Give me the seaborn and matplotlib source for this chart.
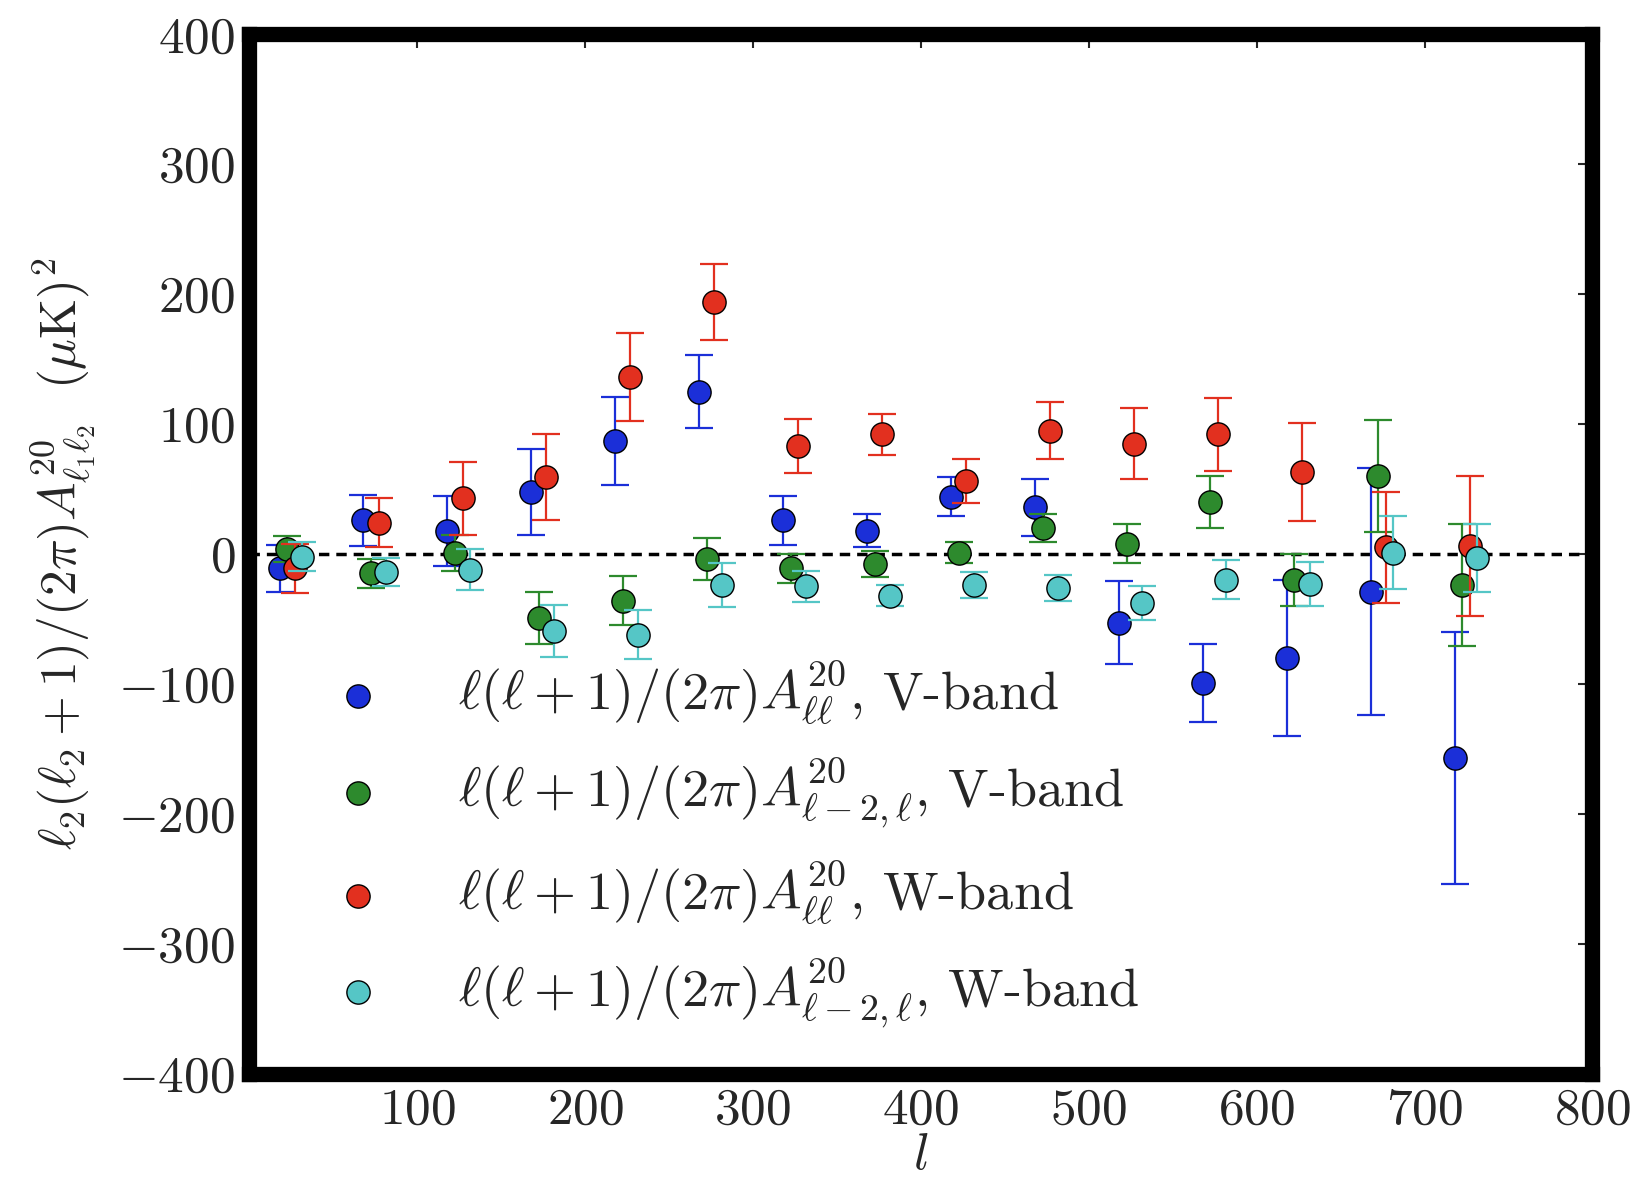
import numpy as np
import pandas as pd
import matplotlib
matplotlib.use('Agg')
import matplotlib.pyplot as plt
import seaborn as sns

# bin centres in l and the four measured series (value, 1-sigma error)
l_bins = [25, 75, 125, 175, 225, 275, 325, 375, 425, 475, 525, 575, 625, 675, 725]

v_ll = [-11, 26, 18, 48, 87, 125, 26, 18, 44, 36, -53, -99, -80, -29, -157]
v_ll_err = [18, 19.5, 27, 33, 34, 28, 19, 13, 15, 22, 32, 30, 60, 95, 97]

v_l2 = [4, -15, 1, -49, -36, -4, -11, -8, 1, 20, 8, 40, -20, 60, -24]
v_l2_err = [10, 11, 14, 20, 19, 16, 11, 10, 8, 11, 15, 20, 20, 43, 47]

w_ll = [-11, 24, 43, 59, 136, 194, 83, 92, 56, 95, 85, 92, 63, 5, 6]
w_ll_err = [19, 19, 28, 33, 34, 29, 21, 16, 17, 22, 27, 28, 37.5, 43, 54]

w_l2 = [-2, -14, -12, -59, -62, -24, -25, -32, -24, -26, -38, -20, -23, 1, -3]
w_l2_err = [11, 11, 16, 20, 19, 17, 12, 8, 10, 10, 13, 15, 17, 28, 26]

labels = [
    r'$\ell(\ell+1)/(2\pi)A^{20}_{\ell\ell}$, V-band',
    r'$\ell(\ell+1)/(2\pi)A^{20}_{\ell-2,\ell}$, V-band',
    r'$\ell(\ell+1)/(2\pi)A^{20}_{\ell\ell}$, W-band',
    r'$\ell(\ell+1)/(2\pi)A^{20}_{\ell-2,\ell}$, W-band',
]
colors = ['#1b2fd8', '#2d8a2d', '#e2301f', '#55c6c6']
shifts = [-7, -2.5, 2, 6.5]

frames = []
for lab, vals, errs, dl in zip(labels, [v_ll, v_l2, w_ll, w_l2],
                               [v_ll_err, v_l2_err, w_ll_err, w_l2_err], shifts):
    frames.append(pd.DataFrame({'l': np.array(l_bins) + dl, 'val': vals,
                                'err': errs, 'series': lab}))
df = pd.concat(frames, ignore_index=True)

sns.set_style('white')
plt.rcParams.update({
    'font.family': 'serif',
    'font.serif': ['cmr10'],
    'mathtext.fontset': 'cm',
    'axes.formatter.use_mathtext': True,
    'font.size': 37,
    'axes.unicode_minus': True,
})

fig, ax = plt.subplots(figsize=(16.4, 11.85), dpi=100)
fig.subplots_adjust(left=0.152, right=0.971, top=0.971, bottom=0.094)

ax.axhline(0, color='k', ls='--', lw=2.5, dashes=(3, 2), zorder=1)

for i, (lab, col) in enumerate(zip(labels, colors)):
    d = df[df['series'] == lab]
    ax.errorbar(d['l'], d['val'], yerr=d['err'], fmt='none', ecolor=col,
                elinewidth=1.6, capsize=10, capthick=1.6, zorder=2 + 2 * i)
    sns.scatterplot(data=d, x='l', y='val', color=col, s=280, edgecolor='k',
                    linewidth=1.0, label=lab, ax=ax, zorder=3 + 2 * i)

ax.set_xlim(0, 800)
ax.set_ylim(-400, 400)
ax.set_xticks([100, 200, 300, 400, 500, 600, 700, 800])
ax.set_yticks(np.arange(-400, 401, 100))
ax.tick_params(direction='in', length=10, width=1.5, top=True, right=True,
               labelsize=37, pad=10)
for sp in ax.spines.values():
    sp.set_linewidth(11)
    sp.set_color('k')

ax.set_xlabel(r'$l$', fontsize=37, labelpad=0)
ax.set_ylabel(r'$\ell_2(\ell_2+1)/(2\pi)A^{20}_{\ell_1\ell_2}\ \ (\mu\mathrm{K})^2$',
              fontsize=37, labelpad=14)

ax.legend(loc='upper left', bbox_to_anchor=(0.004, 0.445), frameon=False,
          fontsize=39, handletextpad=0.85, labelspacing=0.53, scatterpoints=1,
          markerscale=1.0)

fig.savefig('out.png', dpi=100)
